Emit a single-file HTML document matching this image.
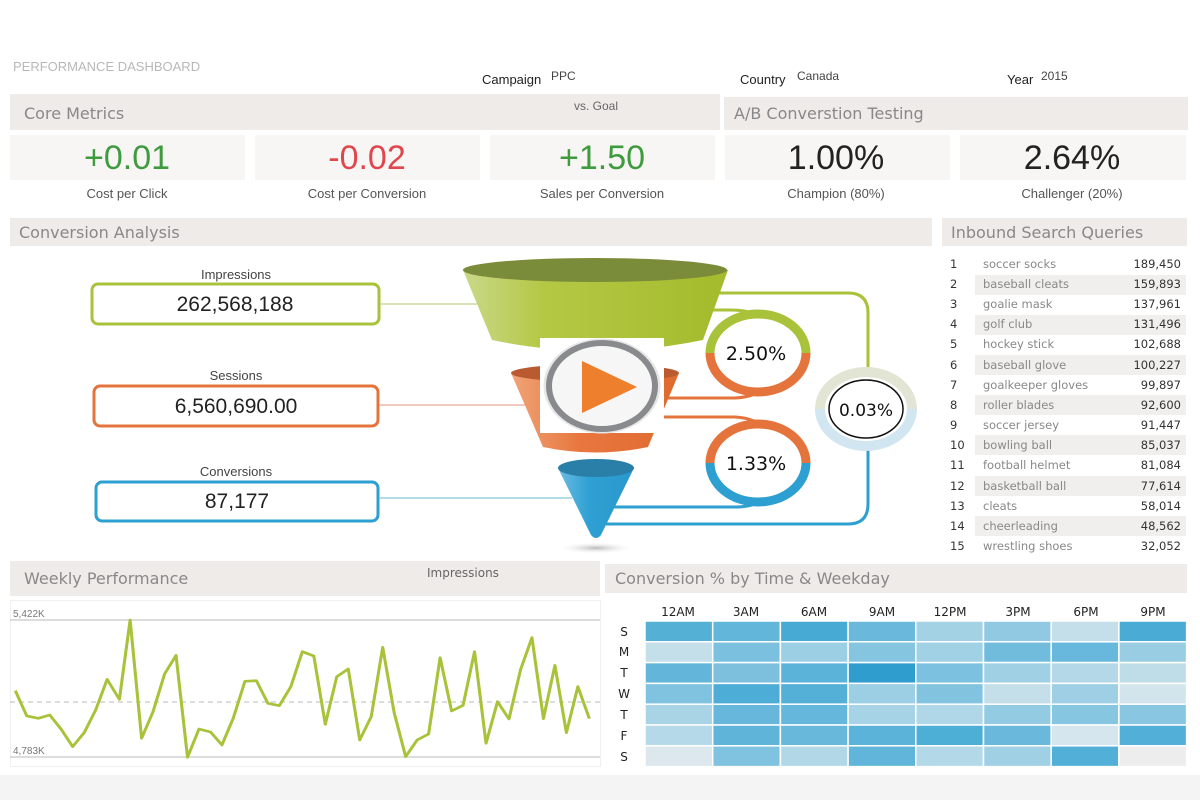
<!DOCTYPE html>
<html><head><meta charset="utf-8"><style>
body{margin:0;width:1200px;height:800px;background:#fff;overflow:hidden}
svg{display:block}
</style></head><body>
<svg width="1200" height="800" viewBox="0 0 1200 800" xmlns="http://www.w3.org/2000/svg" font-family="Liberation Sans, sans-serif">
<defs>
<linearGradient id="gg" x1="0" x2="1"><stop offset="0" stop-color="#c9d88a"/><stop offset="0.3" stop-color="#b5c845"/><stop offset="1" stop-color="#a4bb2c"/></linearGradient>
<linearGradient id="og" x1="0" x2="1"><stop offset="0" stop-color="#f0a478"/><stop offset="0.4" stop-color="#e8773f"/><stop offset="1" stop-color="#e06a30"/></linearGradient>
<linearGradient id="bg" x1="0" x2="1"><stop offset="0" stop-color="#6cbde3"/><stop offset="0.4" stop-color="#2fa0d3"/><stop offset="1" stop-color="#2a98cc"/></linearGradient>
<radialGradient id="sh"><stop offset="0" stop-color="#bbb"/><stop offset="1" stop-color="#fff" stop-opacity="0"/></radialGradient>
</defs>
<text x="13" y="71" font-size="13" fill="#b8b8b8">PERFORMANCE DASHBOARD</text>
<text x="482" y="84" font-size="13" fill="#222">Campaign</text><text x="551" y="80" font-size="12" fill="#444">PPC</text>
<text x="740" y="84" font-size="13" fill="#222">Country</text><text x="797" y="80" font-size="12" fill="#444">Canada</text>
<text x="1007" y="84" font-size="13" fill="#222">Year</text><text x="1041" y="80" font-size="12" fill="#444">2015</text>
<rect x="10" y="94" width="710" height="36" fill="#efebe8"/>
<rect x="724" y="97" width="464" height="33" fill="#efebe8"/>
<text x="24" y="119" font-size="16" fill="#888" font-family="DejaVu Sans, sans-serif">Core Metrics</text>
<text x="574" y="110" font-size="12" fill="#666">vs. Goal</text>
<text x="734" y="119" font-size="16" fill="#888" font-family="DejaVu Sans, sans-serif">A/B Converstion Testing</text>
<g fill="#f7f6f5"><rect x="10" y="135" width="235" height="45"/><rect x="255" y="135" width="225" height="45"/><rect x="490" y="135" width="225" height="45"/><rect x="725" y="135" width="225" height="45"/><rect x="960" y="135" width="226" height="45"/></g>
<g font-size="34" text-anchor="middle"><text x="127" y="169" fill="#3e9b3e">+0.01</text><text x="367" y="169" fill="#e0474c">-0.02</text><text x="602" y="169" fill="#3e9b3e">+1.50</text><text x="836" y="169" fill="#222">1.00%</text><text x="1072" y="169" fill="#222">2.64%</text></g>
<g font-size="13" text-anchor="middle" fill="#555"><text x="127" y="198">Cost per Click</text><text x="367" y="198">Cost per Conversion</text><text x="602" y="198">Sales per Conversion</text><text x="836" y="198">Champion (80%)</text><text x="1072" y="198">Challenger (20%)</text></g>
<rect x="10" y="218" width="922" height="28" fill="#efebe8"/>
<rect x="942" y="218" width="245" height="28" fill="#efebe8"/>
<text x="19" y="238" font-size="16" fill="#888" font-family="DejaVu Sans, sans-serif">Conversion Analysis</text>
<text x="951" y="238" font-size="16" fill="#888" font-family="DejaVu Sans, sans-serif">Inbound Search Queries</text>
<g font-size="13" fill="#444" text-anchor="middle"><text x="236" y="279">Impressions</text><text x="236" y="380">Sessions</text><text x="236" y="476">Conversions</text></g>
<rect x="92" y="284" width="287" height="40" rx="6" fill="#fff" stroke="#a8c23a" stroke-width="3"/>
<rect x="94" y="386" width="284" height="40" rx="6" fill="#fff" stroke="#e4743c" stroke-width="3"/>
<rect x="96" y="482" width="282" height="39" rx="6" fill="#fff" stroke="#2d9fd0" stroke-width="3"/>
<g font-size="21" fill="#222" text-anchor="middle"><text x="235" y="311">262,568,188</text><text x="236" y="413">6,560,690.00</text><text x="237" y="508">87,177</text></g>
<line x1="380" y1="304" x2="477" y2="304" stroke="#cbd9a0" stroke-width="1.5"/>
<line x1="380" y1="405" x2="529" y2="405" stroke="#eab9a5" stroke-width="1.5"/>
<line x1="380" y1="498" x2="572" y2="498" stroke="#9ccfe3" stroke-width="1.5"/>
<g fill="none" stroke-width="3">
<path d="M712 293 H848 Q868 293 868 313 V370" stroke="#a8c23a"/>
<path d="M606 524 H848 Q868 524 868 504 V448" stroke="#2d9fd0"/>
<path d="M705 310 H730 Q750 310 758 316" stroke="#a8c23a"/>
<path d="M660 398 H735 Q752 397 760 391" stroke="#e4743c"/>
<path d="M660 417 H735 Q752 418 760 425" stroke="#e4743c"/>
<path d="M612 507 H735 Q752 507 760 501" stroke="#2d9fd0"/>
</g>
<ellipse cx="596" cy="548" rx="40" ry="6" fill="url(#sh)"/>
<path d="M463 270 L492 340 Q596 362 703 340 L728 270 Z" fill="url(#gg)"/>
<ellipse cx="595" cy="270" rx="132" ry="12" fill="#7a8c3a"/>
<path d="M511 373 L543 447 Q595 458 648 447 L679 373 Z" fill="url(#og)"/>
<ellipse cx="595" cy="373" rx="84" ry="9" fill="#b95a30"/>
<path d="M558 468 L591 535 Q596 541 601 535 L634 468 Z" fill="url(#bg)"/>
<ellipse cx="596" cy="468" rx="38" ry="9" fill="#2a7fa9"/>
<rect x="540" y="338" width="124" height="95" fill="#fff"/>
<ellipse cx="602" cy="386" rx="57" ry="46" fill="#f6f6f6" stroke="#e6e6e6" stroke-width="3"/>
<ellipse cx="602" cy="386" rx="53" ry="43" fill="#f6f6f6" stroke="#888a8e" stroke-width="6"/>
<path d="M582 361 L637 387 L582 413 Z" fill="#ee7f2d"/>
<path d="M710 353 A48 39 0 0 1 806 353" fill="none" stroke="#a8c23a" stroke-width="9"/>
<path d="M710 353 A48 39 0 0 0 806 353" fill="none" stroke="#e4743c" stroke-width="9"/>
<path d="M710 463 A48 39 0 0 1 806 463" fill="none" stroke="#e4743c" stroke-width="9"/>
<path d="M710 463 A48 39 0 0 0 806 463" fill="none" stroke="#2d9fd0" stroke-width="9"/>
<path d="M820 409 A46 37 0 0 1 912 409" fill="none" stroke="#e3e5d4" stroke-width="10"/>
<path d="M820 409 A46 37 0 0 0 912 409" fill="none" stroke="#d1e6f0" stroke-width="10"/>
<ellipse cx="866" cy="409" rx="37" ry="29" fill="#fff" stroke="#111" stroke-width="1.5"/>
<g font-size="19" fill="#111" text-anchor="middle" font-family="DejaVu Sans, sans-serif"><text x="756" y="360">2.50%</text><text x="756" y="470">1.33%</text><text x="866" y="416" font-size="17">0.03%</text></g>
<g fill="#f1efee"><rect x="975" y="275" width="211" height="20"/><rect x="975" y="315" width="211" height="20"/><rect x="975" y="355" width="211" height="20"/><rect x="975" y="395" width="211" height="20"/><rect x="975" y="435" width="211" height="20"/><rect x="975" y="476" width="211" height="20"/><rect x="975" y="516" width="211" height="20"/></g>
<g font-size="11.5" font-family="DejaVu Sans, sans-serif">
<g fill="#333"><text x="950" y="268">1</text><text x="950" y="288">2</text><text x="950" y="308">3</text><text x="950" y="328">4</text><text x="950" y="348">5</text><text x="950" y="369">6</text><text x="950" y="389">7</text><text x="950" y="409">8</text><text x="950" y="429">9</text><text x="950" y="449">10</text><text x="950" y="469">11</text><text x="950" y="490">12</text><text x="950" y="510">13</text><text x="950" y="530">14</text><text x="950" y="550">15</text></g>
<g fill="#888"><text x="983" y="268">soccer socks</text><text x="983" y="288">baseball cleats</text><text x="983" y="308">goalie mask</text><text x="983" y="328">golf club</text><text x="983" y="348">hockey stick</text><text x="983" y="369">baseball glove</text><text x="983" y="389">goalkeeper gloves</text><text x="983" y="409">roller blades</text><text x="983" y="429">soccer jersey</text><text x="983" y="449">bowling ball</text><text x="983" y="469">football helmet</text><text x="983" y="490">basketball ball</text><text x="983" y="510">cleats</text><text x="983" y="530">cheerleading</text><text x="983" y="550">wrestling shoes</text></g>
<g fill="#333" text-anchor="end"><text x="1181" y="268">189,450</text><text x="1181" y="288">159,893</text><text x="1181" y="308">137,961</text><text x="1181" y="328">131,496</text><text x="1181" y="348">102,688</text><text x="1181" y="369">100,227</text><text x="1181" y="389">99,897</text><text x="1181" y="409">92,600</text><text x="1181" y="429">91,447</text><text x="1181" y="449">85,037</text><text x="1181" y="469">81,084</text><text x="1181" y="490">77,614</text><text x="1181" y="510">58,014</text><text x="1181" y="530">48,562</text><text x="1181" y="550">32,052</text></g>
</g>
<rect x="10" y="561" width="590" height="35" fill="#efebe8"/>
<text x="24" y="584" font-size="16" fill="#888" font-family="DejaVu Sans, sans-serif">Weekly Performance</text>
<text x="427" y="577" font-size="12" fill="#666" font-family="DejaVu Sans, sans-serif">Impressions</text>
<rect x="10.5" y="600.5" width="590" height="166" fill="none" stroke="#f0f0f0"/>
<line x1="10" y1="620" x2="600" y2="620" stroke="#bbb"/>
<line x1="10" y1="757" x2="600" y2="757" stroke="#bbb"/>
<line x1="10" y1="702" x2="600" y2="702" stroke="#bbb" stroke-dasharray="5,4"/>
<text x="13" y="617" font-size="10" fill="#777">5,422K</text>
<text x="13" y="754" font-size="10" fill="#777">4,783K</text>
<g transform="translate(0,560) scale(0.3827,0.3333)"><polyline fill="none" stroke="#a8c23a" stroke-width="8" stroke-linejoin="round" points="40,392 70,468 100,475 130,465 160,508 190,560 220,518 250,450 280,358 312,418 340,180 370,535 400,455 430,342 460,286 490,592 520,507 550,516 580,555 610,473 640,364 670,362 700,430 730,437 760,380 790,275 820,288 850,493 880,350 910,327 940,540 970,470 1000,262 1030,458 1060,590 1090,540 1120,522 1150,293 1180,453 1210,436 1240,275 1270,550 1300,425 1330,477 1360,330 1390,233 1420,476 1450,316 1480,518 1510,380 1540,476"/></g>
<rect x="605" y="564" width="582" height="29" fill="#efebe8"/>
<text x="615" y="584" font-size="16" fill="#888" font-family="DejaVu Sans, sans-serif">Conversion % by Time &amp; Weekday</text>
<g font-size="12" fill="#222" text-anchor="middle" font-family="DejaVu Sans, sans-serif">
<text x="678" y="616">12AM</text><text x="746" y="616">3AM</text><text x="814" y="616">6AM</text><text x="882" y="616">9AM</text><text x="950" y="616">12PM</text><text x="1018" y="616">3PM</text><text x="1086" y="616">6PM</text><text x="1153" y="616">9PM</text>
<text x="624" y="636">S</text><text x="624" y="656">M</text><text x="624" y="677">T</text><text x="624" y="698">W</text><text x="624" y="719">T</text><text x="624" y="740">F</text><text x="624" y="761">S</text>
</g>
<g stroke="#fff" stroke-width="1.5">
<g transform="translate(645,621)">
<rect x="0" y="0" width="67.7" height="20.8" fill="#55b0d6"/><rect x="67.7" y="0" width="67.7" height="20.8" fill="#62b6da"/><rect x="135.4" y="0" width="67.7" height="20.8" fill="#47aad4"/><rect x="203.1" y="0" width="67.7" height="20.8" fill="#6ab8dc"/><rect x="270.8" y="0" width="67.7" height="20.8" fill="#a3d2e5"/><rect x="338.5" y="0" width="67.7" height="20.8" fill="#90c9e1"/><rect x="406.2" y="0" width="67.7" height="20.8" fill="#c4dfe9"/><rect x="473.9" y="0" width="67.7" height="20.8" fill="#4aabd5"/>
<rect x="0" y="20.8" width="67.7" height="20.8" fill="#c5dfea"/><rect x="67.7" y="20.8" width="67.7" height="20.8" fill="#7bc0de"/><rect x="135.4" y="20.8" width="67.7" height="20.8" fill="#9dcfe4"/><rect x="203.1" y="20.8" width="67.7" height="20.8" fill="#86c5e0"/><rect x="270.8" y="20.8" width="67.7" height="20.8" fill="#a0d1e5"/><rect x="338.5" y="20.8" width="67.7" height="20.8" fill="#71bcdd"/><rect x="406.2" y="20.8" width="67.7" height="20.8" fill="#67b8dc"/><rect x="473.9" y="20.8" width="67.7" height="20.8" fill="#98cde3"/>
<rect x="0" y="41.6" width="67.7" height="20.8" fill="#63b6da"/><rect x="67.7" y="41.6" width="67.7" height="20.8" fill="#7cc0de"/><rect x="135.4" y="41.6" width="67.7" height="20.8" fill="#5cb3d9"/><rect x="203.1" y="41.6" width="67.7" height="20.8" fill="#2f9ecf"/><rect x="270.8" y="41.6" width="67.7" height="20.8" fill="#7cc1df"/><rect x="338.5" y="41.6" width="67.7" height="20.8" fill="#9fd0e4"/><rect x="406.2" y="41.6" width="67.7" height="20.8" fill="#b4d8e7"/><rect x="473.9" y="41.6" width="67.7" height="20.8" fill="#bfdde9"/>
<rect x="0" y="62.4" width="67.7" height="20.8" fill="#80c3e0"/><rect x="67.7" y="62.4" width="67.7" height="20.8" fill="#4dadd6"/><rect x="135.4" y="62.4" width="67.7" height="20.8" fill="#55b0d7"/><rect x="203.1" y="62.4" width="67.7" height="20.8" fill="#9dcfe4"/><rect x="270.8" y="62.4" width="67.7" height="20.8" fill="#82c4e0"/><rect x="338.5" y="62.4" width="67.7" height="20.8" fill="#c5dfea"/><rect x="406.2" y="62.4" width="67.7" height="20.8" fill="#9ecfe4"/><rect x="473.9" y="62.4" width="67.7" height="20.8" fill="#d3e5ec"/>
<rect x="0" y="83.2" width="67.7" height="20.8" fill="#a8d4e6"/><rect x="67.7" y="83.2" width="67.7" height="20.8" fill="#66b7db"/><rect x="135.4" y="83.2" width="67.7" height="20.8" fill="#65b7db"/><rect x="203.1" y="83.2" width="67.7" height="20.8" fill="#a7d3e6"/><rect x="270.8" y="83.2" width="67.7" height="20.8" fill="#b0d7e7"/><rect x="338.5" y="83.2" width="67.7" height="20.8" fill="#93cbe2"/><rect x="406.2" y="83.2" width="67.7" height="20.8" fill="#87c6e1"/><rect x="473.9" y="83.2" width="67.7" height="20.8" fill="#88c6e1"/>
<rect x="0" y="104" width="67.7" height="20.8" fill="#b5d9e8"/><rect x="67.7" y="104" width="67.7" height="20.8" fill="#5fb4d9"/><rect x="135.4" y="104" width="67.7" height="20.8" fill="#67b8db"/><rect x="203.1" y="104" width="67.7" height="20.8" fill="#5cb3d9"/><rect x="270.8" y="104" width="67.7" height="20.8" fill="#4daed6"/><rect x="338.5" y="104" width="67.7" height="20.8" fill="#6ab9dc"/><rect x="406.2" y="104" width="67.7" height="20.8" fill="#d5e6ee"/><rect x="473.9" y="104" width="67.7" height="20.8" fill="#52afd7"/>
<rect x="0" y="124.8" width="67.7" height="20.8" fill="#dce8ee"/><rect x="67.7" y="124.8" width="67.7" height="20.8" fill="#80c3e0"/><rect x="135.4" y="124.8" width="67.7" height="20.8" fill="#b2d8e8"/><rect x="203.1" y="124.8" width="67.7" height="20.8" fill="#61b5da"/><rect x="270.8" y="124.8" width="67.7" height="20.8" fill="#b3d8e8"/><rect x="338.5" y="124.8" width="67.7" height="20.8" fill="#9fd0e4"/><rect x="406.2" y="124.8" width="67.7" height="20.8" fill="#52afd7"/><rect x="473.9" y="124.8" width="67.7" height="20.8" fill="#ededed"/>
</g></g>
<rect x="0" y="775" width="1200" height="25" fill="#f4f4f4"/>
</svg>
</body></html>
